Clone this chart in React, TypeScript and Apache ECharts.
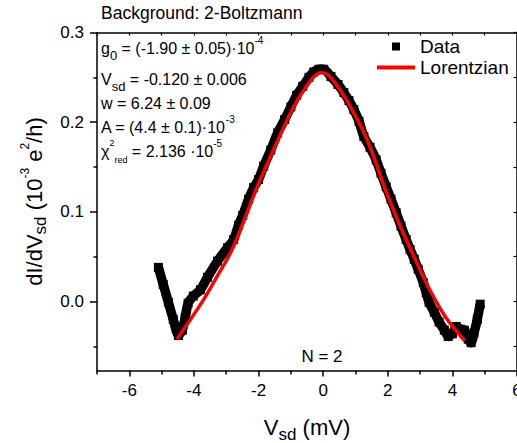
import { useEffect, useRef } from "react";
import * as echarts from "echarts";

// Measured data (V_sd in mV, dI/dV in 10^-3 e^2/h)
const dataV = [
  -5.10, -4.95, -4.79, -4.64, -4.48, -4.36, -4.27, -4.18, -4.02, -3.80, -3.58, -3.27,
  -2.96, -2.77, -2.62, -2.49, -2.31, -2.15, -2.00, -1.84, -1.62, -1.41, -1.19, -1.00,
  -0.82, -0.63, -0.44, -0.29, -0.13, 0.02, 0.24, 0.46, 0.64, 0.80, 0.95, 1.11, 1.26,
  1.45, 1.64, 1.79, 1.95, 2.10, 2.26, 2.41, 2.57, 2.69, 2.82, 2.94, 3.10, 3.19, 3.28,
  3.44, 3.59, 3.75, 3.87, 4.00, 4.12, 4.25, 4.37, 4.49, 4.58, 4.67, 4.77, 4.86,
];
const dataG = [
  0.038, 0.019, -0.001, -0.020, -0.038, -0.032, -0.018, -0.002, 0.006, 0.013, 0.027, 0.045,
  0.060, 0.069, 0.085, 0.096, 0.114, 0.127, 0.136, 0.151, 0.169, 0.188, 0.203, 0.217,
  0.230, 0.240, 0.250, 0.256, 0.259, 0.259, 0.251, 0.242, 0.233, 0.224, 0.214, 0.201, 0.184,
  0.172, 0.158, 0.143, 0.128, 0.114, 0.099, 0.084, 0.069, 0.058, 0.047, 0.036, 0.021, 0.010, -0.001,
  -0.012, -0.023, -0.032, -0.039, -0.036, -0.028, -0.031, -0.032, -0.042, -0.046, -0.035, -0.020, -0.003,
];

// Lorentzian fit curve
const fitV = [
  -4.52, -4.20, -3.70, -3.30, -2.87, -2.45, -2.04, -1.60, -1.21, -0.90, -0.59, -0.30, -0.07,
  0.20, 0.65, 0.95, 1.27, 1.60, 1.89, 2.20, 2.52, 2.85, 3.14, 3.45, 3.76, 4.10, 4.38,
];
const fitG = [
  -0.042, -0.025, 0.002, 0.027, 0.054, 0.090, 0.128, 0.164, 0.195, 0.218, 0.236, 0.250, 0.255,
  0.251, 0.229, 0.210, 0.188, 0.158, 0.128, 0.100, 0.073, 0.047, 0.0245, 0.003, -0.016, -0.032, -0.044,
];

const xLabelTicks = [-6, -4, -2, 0, 2, 4, 6];
const xMinorTicks = [-7, -5, -3, -1, 1, 3, 5];
const xTopTicks = [-7, -6, -5, -4, -3, -2, -1, 0, 1, 2, 3, 4, 5, 6];
const yLabelTicks = [0, 0.1, 0.2, 0.3];
const yMinorTicks = [-0.05, 0.05, 0.15, 0.25];
const yRightTicks = [-0.05, 0, 0.05, 0.1, 0.15, 0.2, 0.25, 0.3];

const titleText = "Background: 2-Boltzmann";
const paramLines = [
  "g{sub|0} = (-1.90 ± 0.05)·10{sup|-4}",
  "V{sub|sd} = -0.120 ± 0.006",
  "w = 6.24 ± 0.09",
  "A = (4.4 ± 0.1)·10{sup|-3}",
  "χ{sup2|2}{sub2|red} = 2.136 ·10{sup|-5}",
];
const paramY = [48.5, 79.5, 103, 127, 151];
const noteText = "N = 2";
const seriesNames = ["Data", "Lorentzian"];

const FONT = "'Liberation Sans', Arial, Helvetica, sans-serif";

export default function App() {
  const ref = useRef<HTMLDivElement>(null);
  useEffect(() => {
    if (!ref.current) return;
    const chart = echarts.init(ref.current, null, { renderer: "svg" });
    const xMin = -7, xMax = 6, yMin = -0.077, yMax = 0.3;
    const lineCol = "#000";
    const paramRich = {
      sub: { fontSize: 13, lineHeight: 13, verticalAlign: "bottom", fill: "#000", fontFamily: FONT },
      sup: { fontSize: 10, lineHeight: 20, verticalAlign: "top", fill: "#000", fontFamily: FONT },
      sup2: { fontSize: 9, lineHeight: 9, verticalAlign: "top", fill: "#000", fontFamily: FONT },
      sub2: { fontSize: 9, lineHeight: 20, verticalAlign: "bottom", fill: "#000", fontFamily: FONT },
    };
    chart.setOption({
      animation: false,
      backgroundColor: "#fff",
      textStyle: { fontFamily: FONT },
      grid: { left: 97, right: 0, top: 32.5, bottom: 72.5, containLabel: false, outerBoundsMode: "none" },
      legend: {
        orient: "vertical",
        left: 372,
        top: 32,
        itemWidth: 38,
        itemHeight: 8,
        itemGap: 2,
        symbolKeepAspect: true,
        textStyle: { fontSize: 19, lineHeight: 19, color: "#000", fontFamily: FONT },
        data: [
          { name: seriesNames[0], icon: "path://M0,0H8V8H0Z" },
          { name: seriesNames[1], icon: "path://M0,0H38V4H0Z" },
        ],
      },
      xAxis: [
        {
          type: "value", position: "bottom", min: xMin, max: xMax,
          axisLine: { show: true, onZero: false, lineStyle: { color: lineCol, width: 1.5 } },
          axisTick: { show: true, inside: false, length: 6, customValues: xLabelTicks, lineStyle: { color: lineCol, width: 1.5 } },
          axisLabel: { show: true, customValues: xLabelTicks, margin: 11, fontSize: 17, color: "#000", fontFamily: FONT, formatter: (v: number) => String(v) },
          splitLine: { show: false },
          name: "V{sub|sd} (mV)",
          nameLocation: "middle",
          nameGap: 42,
          nameTextStyle: {
            fontSize: 22, color: "#000", fontFamily: FONT, lineHeight: 30, verticalAlign: "top",
            rich: { sub: { fontSize: 17, lineHeight: 17, verticalAlign: "bottom", color: "#000", fontFamily: FONT } },
          },
        },
        {
          type: "value", position: "bottom", min: xMin, max: xMax,
          axisLine: { show: false, onZero: false },
          axisTick: { show: true, inside: false, length: 4, customValues: xMinorTicks, lineStyle: { color: lineCol, width: 1.5 } },
          axisLabel: { show: false },
          splitLine: { show: false },
        },
        {
          type: "value", position: "top", min: xMin, max: xMax,
          axisLine: { show: true, onZero: false, lineStyle: { color: lineCol, width: 1.5 } },
          axisTick: { show: true, inside: true, length: 3, customValues: xTopTicks, lineStyle: { color: lineCol, width: 1.2 } },
          axisLabel: { show: false },
          splitLine: { show: false },
        },
      ],
      yAxis: [
        {
          type: "value", position: "left", min: yMin, max: yMax,
          axisLine: { show: true, onZero: false, lineStyle: { color: lineCol, width: 1.5 } },
          axisTick: { show: true, inside: false, length: 7, customValues: yLabelTicks, lineStyle: { color: lineCol, width: 1.5 } },
          axisLabel: { show: true, customValues: yLabelTicks, margin: 13, fontSize: 17, color: "#000", fontFamily: FONT, formatter: (v: number) => v.toFixed(1) },
          splitLine: { show: false },
          name: "dI/dV{sub|sd} (10{sup|-3} e{sup|2}/h)",
          nameLocation: "middle",
          nameGap: 46,
          nameTextStyle: {
            fontSize: 22, color: "#000", fontFamily: FONT, lineHeight: 30,
            rich: {
              sub: { fontSize: 17, lineHeight: 17, verticalAlign: "bottom", color: "#000", fontFamily: FONT },
              sup: { fontSize: 12, lineHeight: 14, verticalAlign: "top", color: "#000", fontFamily: FONT },
            },
          },
        },
        {
          type: "value", position: "left", min: yMin, max: yMax,
          axisLine: { show: false, onZero: false },
          axisTick: { show: true, inside: false, length: 3.5, customValues: yMinorTicks, lineStyle: { color: lineCol, width: 1.5 } },
          axisLabel: { show: false },
          splitLine: { show: false },
        },
        {
          type: "value", position: "right", min: yMin, max: yMax,
          axisLine: { show: true, onZero: false, lineStyle: { color: lineCol, width: 1.5 } },
          axisTick: { show: true, inside: true, length: 3.5, customValues: yRightTicks, lineStyle: { color: lineCol, width: 1.2 } },
          axisLabel: { show: false },
          splitLine: { show: false },
        },
      ],
      series: [
        {
          name: seriesNames[0],
          type: "line",
          xAxisIndex: 0,
          yAxisIndex: 0,
          data: dataV.map((v, i) => [v, dataG[i]]),
          smooth: 0.2,
          symbol: "rect",
          symbolSize: 9,
          showSymbol: true,
          itemStyle: { color: "#000" },
          lineStyle: { color: "#000", width: 9.5 },
          z: 2,
        },
        {
          name: seriesNames[1],
          type: "line",
          xAxisIndex: 0,
          yAxisIndex: 0,
          data: fitV.map((v, i) => [v, fitG[i]]),
          smooth: 0.4,
          symbol: "none",
          showSymbol: false,
          itemStyle: { color: "#ff0000" },
          lineStyle: { color: "#ff0000", width: 3.5 },
          z: 3,
        },
      ],
      graphic: [
        {
          type: "text", left: 101, top: 3.5,
          style: { text: titleText, fontSize: 17.5, fontFamily: FONT, fill: "#000" },
        },
        ...paramLines.map((t, i) => ({
          type: "text", x: 101, y: paramY[i],
          style: {
            text: t, fontSize: 16, lineHeight: 26, fontFamily: FONT, fill: "#000",
            verticalAlign: "middle", align: "left", rich: paramRich,
          },
        })),
        {
          type: "text", x: 322, y: 356,
          style: { text: noteText, fontSize: 17, fontFamily: FONT, fill: "#000", align: "center", verticalAlign: "middle" },
        },
      ],
    });
    return () => chart.dispose();
  }, []);
  return <div ref={ref} style={{ width: 517, height: 443, position: "absolute", left: 0, top: 0 }} />;
}
